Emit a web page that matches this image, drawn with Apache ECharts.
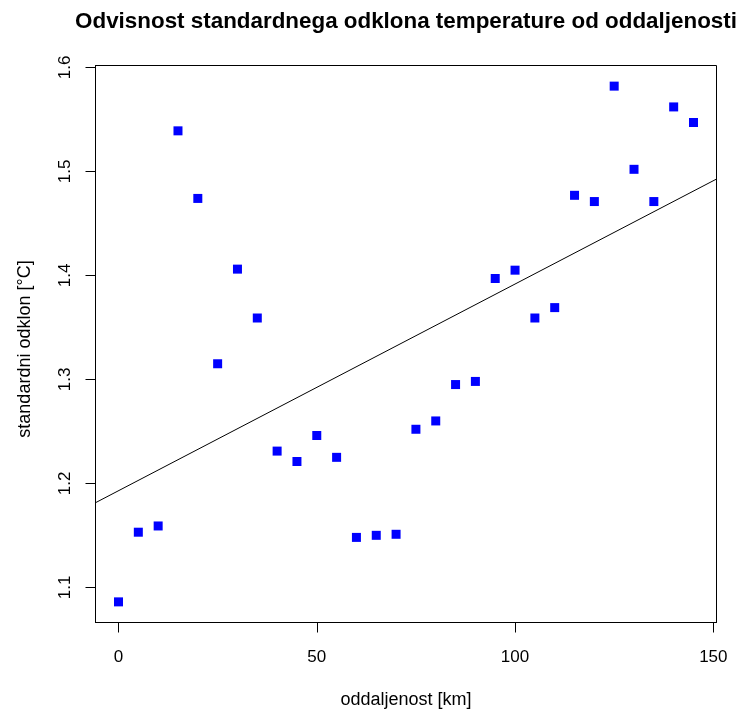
<!DOCTYPE html>
<html>
<head>
<meta charset="utf-8">
<script src="https://cdn.jsdelivr.net/npm/echarts@6/dist/echarts.min.js"></script>
<style>html,body{margin:0;padding:0;background:#fff}#c{width:737px;height:709px}</style>
</head>
<body>
<div id="c"></div>
<script>
const distances = [0,5,10,15,20,25,30,35,40,45,50,55,60,65,70,75,80,85,90,95,100,105,110,115,120,125,130,135,140,145];
const stdDev = [1.086,1.153,1.159,1.539,1.474,1.315,1.406,1.359,1.231,1.221,1.246,1.225,1.148,1.150,1.151,1.252,1.260,1.295,1.298,1.397,1.405,1.359,1.369,1.477,1.471,1.582,1.502,1.471,1.562,1.547];
const xTicks = [0,50,100,150];
const yTicks = [1.1,1.2,1.3,1.4,1.5,1.6];
const titleText = 'Odvisnost standardnega odklona temperature od oddaljenosti';
const xName = 'oddaljenost [km]';
const yName = 'standardni odklon [°C]';

// R-style 4% axis extension
function ext(arr){const mn=Math.min(...arr),mx=Math.max(...arr),d=(mx-mn)*0.04;return [mn-d,mx+d];}
const [xmin,xmax]=ext(distances);
const [ymin,ymax]=ext(stdDev);

// least squares fit
const n=distances.length;
const mx=distances.reduce((a,b)=>a+b,0)/n, my=stdDev.reduce((a,b)=>a+b,0)/n;
let sxy=0,sxx=0;
for(let i=0;i<n;i++){sxy+=(distances[i]-mx)*(stdDev[i]-my);sxx+=(distances[i]-mx)**2;}
const slope=sxy/sxx, icpt=my-slope*mx;
const fitLine=[[xmin,icpt+slope*xmin],[xmax,icpt+slope*xmax]];

const font='"Liberation Sans", Arial, Helvetica, sans-serif';
const chart=echarts.init(document.getElementById('c'),null,{renderer:'canvas'});
chart.setOption({
  animation:false,
  backgroundColor:'#fff',
  grid:{left:95.5,right:20.5,top:65.5,bottom:86.5,show:true,borderColor:'#000',borderWidth:1,backgroundColor:'transparent'},
  xAxis:{type:'value',min:xmin,max:xmax,
    axisLine:{show:true,onZero:false,lineStyle:{color:'#000',width:1}},
    axisTick:{show:true,length:10,customValues:xTicks,lineStyle:{color:'#000'}},
    axisLabel:{customValues:xTicks,margin:26,color:'#000',fontSize:17,fontFamily:font},
    splitLine:{show:false}},
  yAxis:{type:'value',min:ymin,max:ymax,
    axisLine:{show:true,onZero:false,lineStyle:{color:'#000',width:1}},
    axisTick:{show:true,length:10,customValues:yTicks,lineStyle:{color:'#000'}},
    axisLabel:{customValues:yTicks,rotate:90,margin:22,color:'#000',fontSize:17,fontFamily:font,
      formatter:v=>v.toFixed(1)},
    splitLine:{show:false}},
  graphic:[
    {type:'text',x:406,y:22.2,style:{text:titleText,font:'bold 22.4px '+font,fill:'#000',align:'center',verticalAlign:'middle'}},
    {type:'text',x:406,y:700,style:{text:xName,font:'18px '+font,fill:'#000',align:'center',verticalAlign:'middle'}},
    {type:'text',x:25.5,y:349,rotation:Math.PI/2,style:{text:yName,font:'18px '+font,fill:'#000',align:'center',verticalAlign:'middle'}}
  ],
  series:[
    {type:'line',data:fitLine,showSymbol:false,symbol:'none',lineStyle:{color:'#000',width:1},clip:true,z:1},
    {type:'scatter',data:distances.map((d,i)=>[d,stdDev[i]]),symbol:'rect',symbolSize:9,itemStyle:{color:'#0000ff',opacity:1},z:2}
  ]
});
</script>
</body>
</html>
